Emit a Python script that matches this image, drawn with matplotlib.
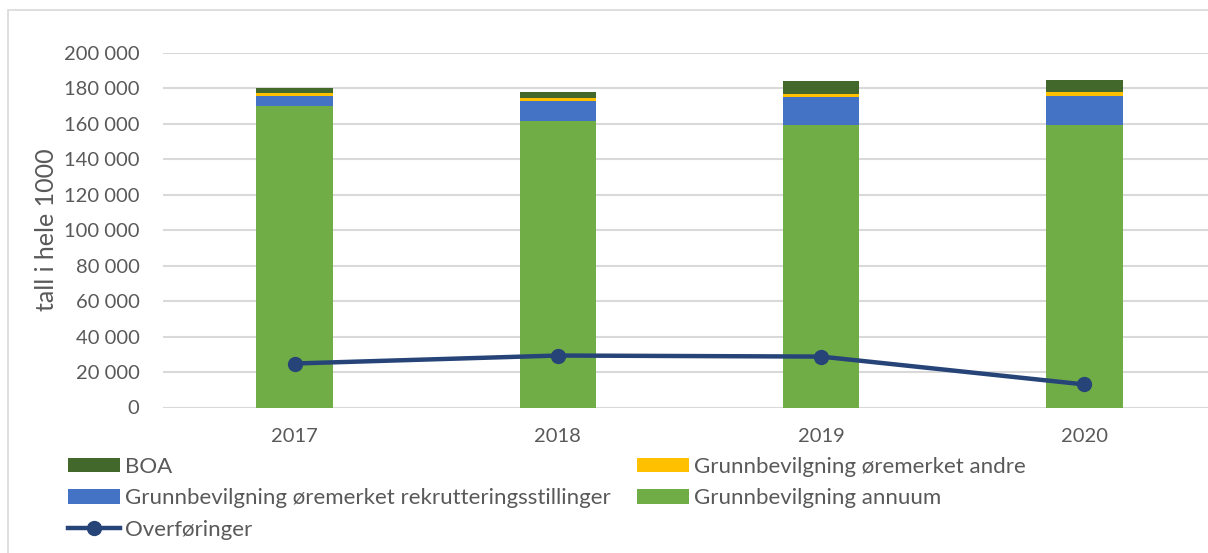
import numpy as np
import matplotlib.pyplot as plt
from matplotlib.patches import Rectangle
from matplotlib.ticker import FuncFormatter

plt.rcParams['font.family'] = ['Lato', 'DejaVu Sans']

years = ['2017', '2018', '2019', '2020']
annuum = [169800, 161300, 159400, 159400]
rekruttering = [6000, 11700, 15800, 16400]
andre = [1500, 1500, 1700, 1800]
boa = [3000, 3100, 7300, 7000]
overforinger = [24800, 29300, 28700, 13000]

c_boa = '#43682B'
c_andre = '#FFC000'
c_rek = '#4472C4'
c_ann = '#70AD47'
c_line = '#264478'
txt = '#595959'

fig = plt.figure(figsize=(12.08, 5.53), dpi=100)
W, H = 1208, 553
ax = fig.add_axes([163 / W, (H - 407.5) / H, 1053 / W, (407.5 - 52.7) / H])

x = np.arange(len(years))
bw = 0.29
b0 = np.array(annuum)
b1 = b0 + np.array(rekruttering)
b2 = b1 + np.array(andre)
h_ann = ax.bar(x, annuum, bw, color=c_ann, zorder=2)
h_rek = ax.bar(x, rekruttering, bw, bottom=b0, color=c_rek, zorder=2)
h_and = ax.bar(x, andre, bw, bottom=b1, color=c_andre, zorder=2)
h_boa = ax.bar(x, boa, bw, bottom=b2, color=c_boa, zorder=2)
h_ov, = ax.plot(x, overforinger, color=c_line, lw=3.2, marker='o', ms=10, zorder=3)

ax.set_xlim(-0.5, 3.5)
ax.set_ylim(0, 200000)
ax.set_yticks(np.arange(0, 200001, 20000))
ax.yaxis.set_major_formatter(FuncFormatter(lambda v, p: f'{int(v):,}'.replace(',', ' ')))
ax.set_xticks(x)
ax.set_xticklabels(years)
ax.grid(axis='y', color='#D9D9D9', lw=1.5, zorder=0)
for s in ax.spines.values():
    s.set_visible(False)
ax.tick_params(length=0, labelsize=14.5, colors=txt, pad=17)
ax.tick_params(axis='x', pad=15)
ax.set_ylabel('tall i hele 1000', fontsize=18, color=txt, labelpad=4)

fig.patches.append(Rectangle((8 / W, -0.1), 1.2, 1 - 10 / H + 0.1, transform=fig.transFigure,
                             fill=False, edgecolor='#D9D9D9', lw=1.2))

handles = [h_boa, h_rek, h_ov, h_and, h_ann]
labels = ['BOA', 'Grunnbevilgning øremerket rekrutteringsstillinger', 'Overføringer',
          'Grunnbevilgning øremerket andre', 'Grunnbevilgning annuum']
leg = fig.legend(handles, labels, ncol=2, loc='upper left', bbox_to_anchor=(68 / W, 1 - 457 / H),
                 frameon=False, fontsize=16, handlelength=2.35, handleheight=0.6, borderpad=0,
                 borderaxespad=0, handletextpad=0.2, labelspacing=0.51, columnspacing=1.2,
                 labelcolor=txt)

fig.savefig('out.png', dpi=100)
